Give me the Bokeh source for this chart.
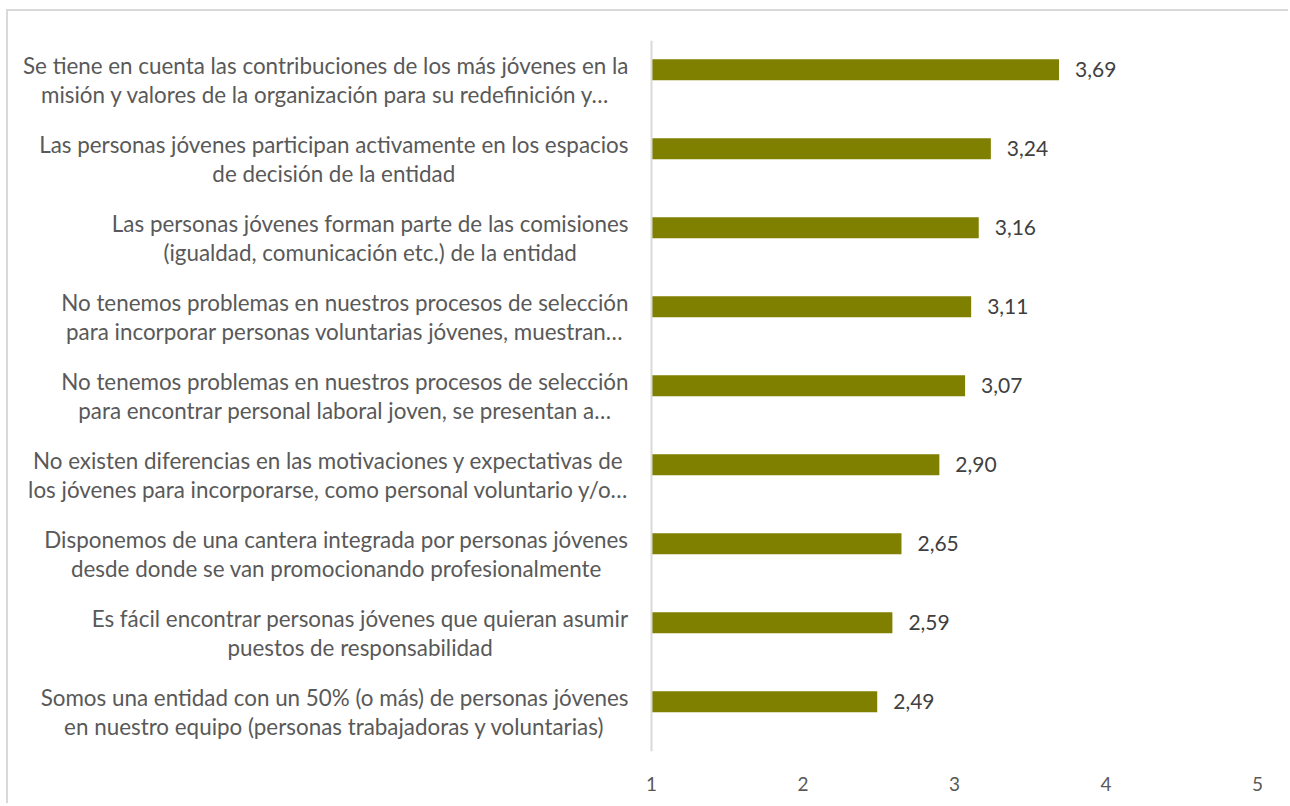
from bokeh.plotting import figure
from bokeh.models import FactorRange, Range1d, FixedTicker, ColumnDataSource, Span
from bokeh.transform import dodge
from bokeh.core.properties import value
from bokeh.embed import file_html
from bokeh.resources import INLINE

categories = [
    "Se tiene en cuenta las contribuciones de los más jóvenes en la\nmisión y valores de la organización para su redefinición y…",
    "Las personas jóvenes participan activamente en los espacios\nde decisión de la entidad",
    "Las personas jóvenes forman parte de las comisiones\n(igualdad, comunicación etc.) de la entidad",
    "No tenemos problemas en nuestros procesos de selección\npara incorporar personas voluntarias jóvenes, muestran…",
    "No tenemos problemas en nuestros procesos de selección\npara encontrar personal laboral joven, se presentan a…",
    "No existen diferencias en las motivaciones y expectativas de\nlos jóvenes para incorporarse, como personal voluntario y/o…",
    "Disponemos de una cantera integrada por personas jóvenes\ndesde donde se van promocionando profesionalmente",
    "Es fácil encontrar personas jóvenes que quieran asumir\npuestos de responsabilidad",
    "Somos una entidad con un 50% (o más) de personas jóvenes\nen nuestro equipo (personas trabajadoras y voluntarias)",
]
values = [3.69, 3.24, 3.16, 3.11, 3.07, 2.90, 2.65, 2.59, 2.49]
x_ticks = [1, 2, 3, 4, 5]

labels = [f"{v:.2f}".replace(".", ",") for v in values]
source = ColumnDataSource(dict(cat=categories, val=values, lab=labels,
                               base=[x_ticks[0]] * len(values)))

FONT = "Lato"
W, H = 1282, 794
# frame placement (layout only)
OX, OY = 8, 11            # content origin after the css border/margin
FRAME_L, FRAME_R, FRAME_T, FRAME_B = 9, 1257, 40, 751
PX_PER_UNIT = (FRAME_R - 651) / (x_ticks[-1] - x_ticks[0])
x_start = x_ticks[0] - (651 - FRAME_L) / PX_PER_UNIT

p = figure(
    width=W, height=H,
    y_range=FactorRange(*reversed(categories), range_padding=0),
    x_range=Range1d(x_start, x_ticks[-1]),
    output_backend="svg", toolbar_location=None,
    min_border_left=FRAME_L - OX, min_border_right=OX + W - FRAME_R,
    min_border_top=FRAME_T - OY, min_border_bottom=OY + H - FRAME_B,
)
p.styles = {"margin-left": "6px", "margin-top": "9px",
            "border-left": "2px solid #D9D9D9", "border-top": "2px solid #D9D9D9"}
p.background_fill_color = "white"
p.border_fill_color = "white"
p.outline_line_color = None
p.xgrid.visible = False
p.ygrid.visible = False
p.yaxis.visible = False

p.add_layout(Span(location=x_ticks[0], dimension="height", line_color="#D9D9D9", line_width=2))

p.hbar(y=dodge("cat", 0.13, range=p.y_range), left="base", right="val", height=0.267,
       source=source, color="#7F7F00", line_color=None)

p.text(x="val", y=dodge("cat", 0.13, range=p.y_range), text="lab", source=source,
       x_offset=16, text_baseline="middle", text_align="left",
       text_font=value(FONT), text_font_size="21px", text_color="#404040")

p.text(x="base", y="cat", text="cat", source=source,
       x_offset=-23, anchor="center_right", text_align="center", text_baseline="middle",
       text_font=value(FONT), text_font_size="22.4px", text_color="#595959",
       text_line_height=1.04)

xa = p.xaxis[0]
xa.ticker = FixedTicker(ticks=x_ticks)
xa.axis_line_color = None
xa.major_tick_line_color = None
xa.minor_tick_line_color = None
xa.major_label_standoff = 19
xa.major_label_text_font = FONT
xa.major_label_text_font_size = "19px"
xa.major_label_text_color = "#595959"

open("out.html", "w").write(file_html(p, INLINE))
